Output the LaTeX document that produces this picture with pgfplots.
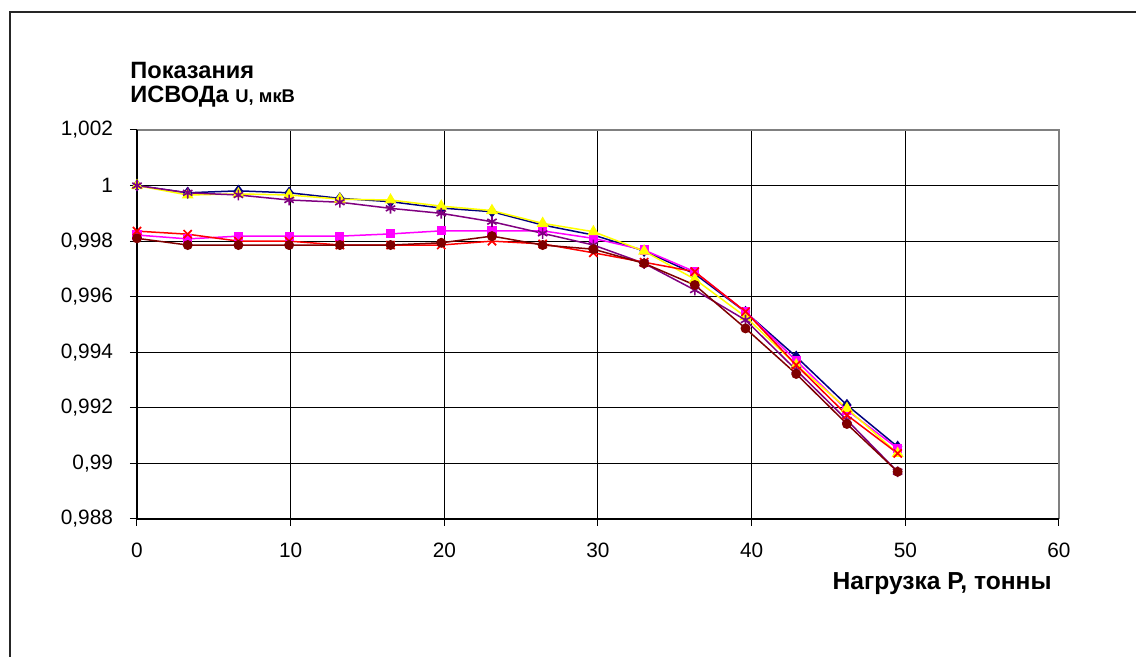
\documentclass[border=0pt]{standalone}
\usepackage{pgfplots}
\pgfplotsset{compat=1.18}
\usepackage{fontspec}
\setmainfont{Liberation Sans}
\definecolor{cnavy}{RGB}{0,0,128}
\definecolor{cmag}{RGB}{255,0,255}
\definecolor{cyel}{RGB}{255,255,0}
\definecolor{cpur}{RGB}{128,0,128}
\definecolor{cred}{RGB}{255,0,0}
\definecolor{cmar}{RGB}{128,0,0}
\begin{document}
\begin{tikzpicture}
\useasboundingbox (-68.5pt,-69pt) rectangle (499.5pt,259.5pt);
\draw[line width=1pt, black!85] (-63.5pt,-80pt) -- (-63.5pt,253.5pt) -- (520pt,253.5pt);
\begin{axis}[
  at={(0,0)}, anchor=south west,
  scale only axis,
  width=461pt, height=194.5pt,
  xmin=0, xmax=60, ymin=0.988, ymax=1.002,
  xtick={0,10,...,60},
  ytick={0.988,0.990,0.992,0.994,0.996,0.998,1.000,1.002},
  axis line style={draw=none},
  grid=major,
  major grid style={black, line width=0.5pt},
  tick style={black, line width=0.5pt},
  major tick length=3.5pt,
  tick align=outside,
  xtick pos=bottom, ytick pos=left,
  tick label style={font=\fontsize{10.4pt}{12pt}\selectfont},
  /pgf/number format/.cd, fixed, precision=3, use comma, assume math mode=true, /pgfplots/.cd,
  yticklabel shift=5pt,
  xticklabel shift=5pt,
  clip=false,
]
\draw[gray, line width=0.75pt] (axis cs:0,1.002) -- (axis cs:60,1.002) -- (axis cs:60,0.988);
\draw[black, line width=0.6pt] (axis cs:0,1.002) -- (axis cs:0,0.988) -- (axis cs:60,0.988);
% navy diamonds
\addplot[cnavy, line width=0.75pt, mark=diamond*, mark size=2.5pt, mark options={fill=cnavy}] coordinates {
(0,1.0000) (3.3,0.99974) (6.6,0.99981) (9.9,0.99974) (13.2,0.99954) (16.5,0.99942) (19.8,0.99919) (23.1,0.99906) (26.4,0.99858) (29.7,0.99822) (33,0.99765) (36.3,0.99682) (39.6,0.99545) (42.9,0.99384) (46.2,0.9921) (49.5,0.9906)};
% magenta squares
\addplot[cmag, line width=0.75pt, mark=square*, mark size=1.9pt, mark options={fill=cmag}] coordinates {
(0,0.99822) (3.3,0.99808) (6.6,0.99818) (9.9,0.99818) (13.2,0.99818) (16.5,0.99826) (19.8,0.99837) (23.1,0.99837) (26.4,0.99837) (29.7,0.9981) (33,0.99768) (36.3,0.9969) (39.6,0.99546) (42.9,0.9937) (46.2,0.99192) (49.5,0.99054)};
% yellow triangles
\addplot[cyel, line width=0.75pt, mark=triangle*, mark size=2.7pt, mark options={fill=cyel}] coordinates {
(0,1.0000) (3.3,0.99966) (6.6,0.9997) (9.9,0.99966) (13.2,0.99951) (16.5,0.99948) (19.8,0.99926) (23.1,0.9991) (26.4,0.99864) (29.7,0.99834) (33,0.99764) (36.3,0.99663) (39.6,0.99528) (42.9,0.99354) (46.2,0.99198) (49.5,0.99036)};
% purple asterisks
\addplot[cpur, line width=0.75pt, mark=asterisk, mark size=2.7pt, mark options={line width=0.8pt}] coordinates {
(0,1.0000) (3.3,0.99974) (6.6,0.99966) (9.9,0.99948) (13.2,0.9994) (16.5,0.99918) (19.8,0.999) (23.1,0.9987) (26.4,0.99828) (29.7,0.99786) (33,0.9972) (36.3,0.99624) (39.6,0.99516) (42.9,0.99336) (46.2,0.99156) (49.5,0.9897)};
% red crosses
\addplot[cred, line width=0.75pt, mark=x, mark size=2.9pt, mark options={line width=0.85pt}] coordinates {
(0,0.99836) (3.3,0.99825) (6.6,0.998) (9.9,0.998) (13.2,0.99786) (16.5,0.99786) (19.8,0.99786) (23.1,0.998) (26.4,0.9979) (29.7,0.99758) (33,0.99724) (36.3,0.9969) (39.6,0.99546) (42.9,0.99354) (46.2,0.99174) (49.5,0.99036)};
% maroon circles
\addplot[cmar, line width=0.75pt, mark=*, mark size=2.1pt, mark options={fill=cmar}] coordinates {
(0,0.9981) (3.3,0.99786) (6.6,0.99786) (9.9,0.99786) (13.2,0.99786) (16.5,0.99786) (19.8,0.99794) (23.1,0.99818) (26.4,0.99786) (29.7,0.99771) (33,0.9972) (36.3,0.99642) (39.6,0.99486) (42.9,0.99322) (46.2,0.99142) (49.5,0.9897)};
\end{axis}
\node[anchor=base west, inner sep=0pt, font=\bfseries\fontsize{11.8pt}{14pt}\selectfont] at (-3.5pt,220pt) {Показания};
\node[anchor=base west, inner sep=0pt, font=\bfseries\fontsize{11.8pt}{14pt}\selectfont] at (-3.5pt,208pt) {ИСВОДа {\fontsize{9.2pt}{11pt}\selectfont U, мкВ}};
\node[anchor=base east, inner sep=0pt, font=\bfseries\fontsize{12.3pt}{14pt}\selectfont] at (457.5pt,-35.5pt) {Нагрузка Р, тонны};
\end{tikzpicture}
\end{document}
